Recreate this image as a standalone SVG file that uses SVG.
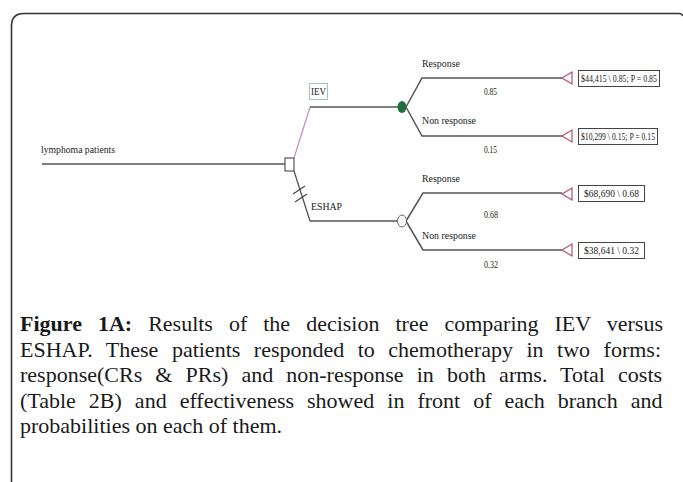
<svg xmlns="http://www.w3.org/2000/svg" width="683" height="482" viewBox="0 0 683 482">
<style>
.t{font-family:"Liberation Serif",serif;font-size:11px;fill:#222}
.v{font-family:"Liberation Serif",serif;font-size:10.5px;fill:#222}
.br{fill:none;stroke:#555;stroke-width:1.5}
.term{fill:#fff;stroke:#b0506e;stroke-width:1.2}
.box{fill:#fff;stroke:#444;stroke-width:1}
.cap{font-family:"Liberation Serif",serif;font-size:22px;fill:#1a1a1a}
</style>
<rect width="683" height="482" fill="#fff"/>
<path d="M11.5,482 V26 Q11.5,13.5 24,13.5 H679 Q682,13.5 683,16" fill="none" stroke="#333" stroke-width="1.6"/>
<g id="connectors">
<line class="br" x1="42" y1="164" x2="285" y2="164"/>
<line x1="294" y1="158" x2="310" y2="107" stroke="#c890c8" stroke-width="1.3"/>
<line class="br" x1="310" y1="107" x2="398" y2="107"/>
<polyline class="br" points="406,107 422,78 562,78"/>
<polyline class="br" points="406,107 422,136 562,136"/>
<line x1="294" y1="171" x2="310" y2="221" stroke="#555" stroke-width="1.3"/>
<line x1="293" y1="194" x2="305" y2="186" stroke="#444" stroke-width="1.1"/>
<line x1="295" y1="202" x2="307" y2="194" stroke="#444" stroke-width="1.1"/>
<line class="br" x1="310" y1="221" x2="397" y2="221"/>
<polyline class="br" points="406,221 423,193 562,193"/>
<polyline class="br" points="406,221 423,250 562,250"/>
</g>
<g id="root">
<text class="t" x="41" y="153" textLength="74" lengthAdjust="spacingAndGlyphs">lymphoma patients</text>
<rect x="285" y="158" width="9" height="13" fill="#fff" stroke="#555" stroke-width="1.2"/>
</g>
<g id="iev">
<rect x="309.5" y="83.5" width="18" height="16" fill="#fff" stroke="#9cc4cc" stroke-width="1"/>
<text class="t" x="311" y="95" textLength="15" lengthAdjust="spacingAndGlyphs">IEV</text>
<ellipse cx="402" cy="107" rx="4.5" ry="6" fill="#1f6e3e"/>
</g>
<g id="eshap">
<text class="t" x="311" y="210" textLength="31" lengthAdjust="spacingAndGlyphs">ESHAP</text>
<ellipse cx="402" cy="221" rx="4.5" ry="6" fill="#fff" stroke="#666" stroke-width="1"/>
</g>
<g id="iev-response">
<text class="t" x="422" y="67" textLength="38" lengthAdjust="spacingAndGlyphs">Response</text>
<text class="t" x="484" y="95" textLength="13" lengthAdjust="spacingAndGlyphs">0.85</text>
<polygon class="term" points="562,78 572,72 572,84"/>
<rect class="box" x="578.5" y="70.5" width="81" height="16"/>
<text class="v" x="581" y="82" textLength="76" lengthAdjust="spacingAndGlyphs">$44,415 \ 0.85; P = 0.85</text>
</g>
<g id="iev-nonresponse">
<text class="t" x="422" y="124" textLength="54" lengthAdjust="spacingAndGlyphs">Non response</text>
<text class="t" x="484" y="153" textLength="13" lengthAdjust="spacingAndGlyphs">0.15</text>
<polygon class="term" points="562,136 572,130 572,142"/>
<rect class="box" x="578.5" y="128.5" width="79" height="16"/>
<text class="v" x="581" y="140" textLength="74" lengthAdjust="spacingAndGlyphs">$10,299 \ 0.15; P = 0.15</text>
</g>
<g id="eshap-response">
<text class="t" x="422" y="182" textLength="38" lengthAdjust="spacingAndGlyphs">Response</text>
<text class="t" x="484" y="218" textLength="14" lengthAdjust="spacingAndGlyphs">0.68</text>
<polygon class="term" points="562,194 572,188 572,200"/>
<rect class="box" x="578.5" y="185.5" width="66" height="16"/>
<text class="v" x="584" y="197" textLength="55" lengthAdjust="spacingAndGlyphs">$68,690 \ 0.68</text>
</g>
<g id="eshap-nonresponse">
<text class="t" x="422" y="239" textLength="54" lengthAdjust="spacingAndGlyphs">Non response</text>
<text class="t" x="484" y="268" textLength="14" lengthAdjust="spacingAndGlyphs">0.32</text>
<polygon class="term" points="562,250 572,244 572,256"/>
<rect class="box" x="578.5" y="242.5" width="66" height="16"/>
<text class="v" x="584" y="254" textLength="55" lengthAdjust="spacingAndGlyphs">$38,641 \ 0.32</text>
</g>
<g id="caption">
<text class="cap" x="20" y="331" word-spacing="10.5"><tspan font-weight="bold">Figure 1A:</tspan> Results of the decision tree comparing IEV versus</text>
<text class="cap" x="20" y="356.5" word-spacing="8">ESHAP. These patients responded to chemotherapy in two forms:</text>
<text class="cap" x="20" y="382" word-spacing="7.6">response(CRs &amp; PRs) and non-response in both arms. Total costs</text>
<text class="cap" x="20" y="407.5" word-spacing="7.5">(Table 2B) and effectiveness showed in front of each branch and</text>
<text class="cap" x="20" y="433">probabilities on each of them.</text>
</g>
</svg>
